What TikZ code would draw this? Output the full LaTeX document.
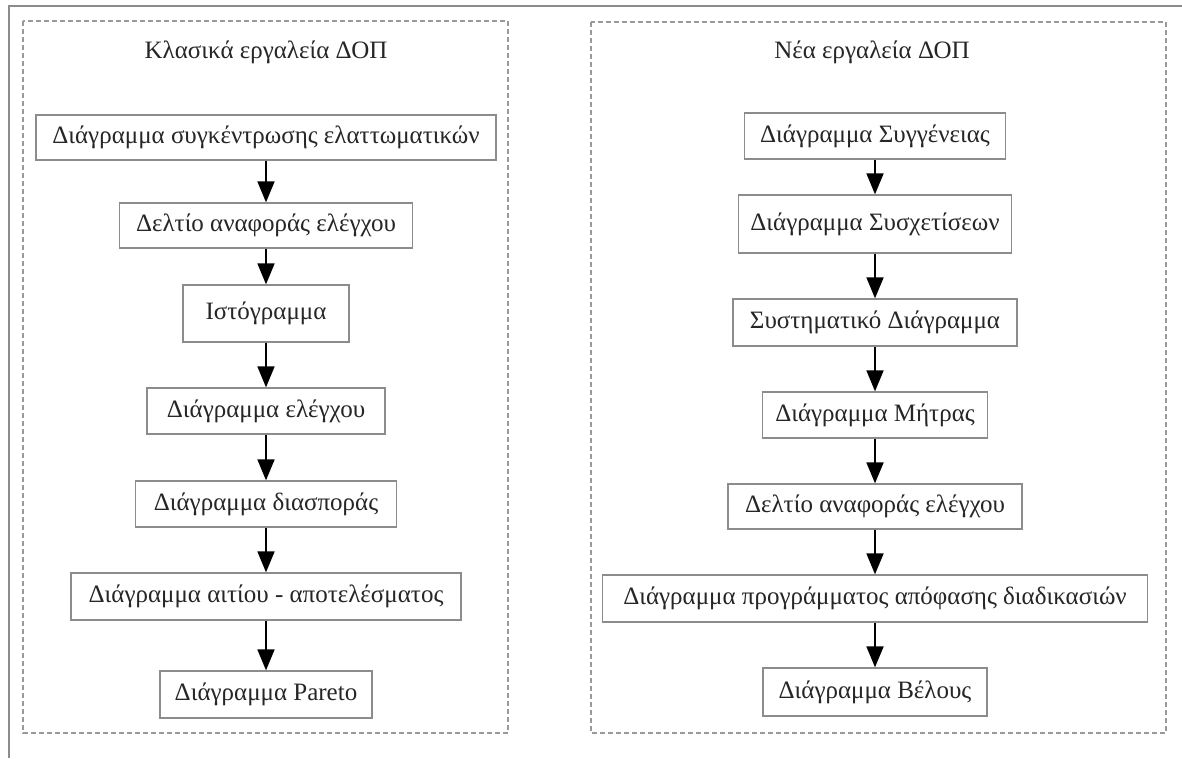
\documentclass[tikz,border=0pt]{standalone}
\usepackage{fontspec}
\setmainfont{Liberation Serif}
\usetikzlibrary{arrows.meta}
\begin{document}
\begin{tikzpicture}[x=1pt,y=-1pt,
  every node/.style={font=\fontsize{25}{29}\selectfont, text=black!85},
  toolbox/.style={draw=black!45, line width=1.3pt, inner sep=0pt, fill=white},
  group/.style={draw=black!40, line width=1.3pt, dash pattern=on 5pt off 3pt},
  flow/.style={line width=1.8pt, -{Triangle[length=21pt,width=17pt]}},
  frame/.style={draw=black!45, line width=1.8pt}]
\useasboundingbox (0,0) rectangle (1182,758);
% outer frame (top and left edges only)
\draw[frame] (1182,6) -- (9,6) -- (9,758);
% group outlines
\draw[group] (23,21) rectangle (508,733);
\draw[group] (591,22) rectangle (1166,733);
% group titles
\node (tl) at (266,52) {Κλασικά εργαλεία ΔΟΠ};
\node (tr) at (872,52) {Νέα εργαλεία ΔΟΠ};
% classic tools
\node[toolbox, minimum width=460pt, minimum height=45pt] (l1) at (266,137.5) {Διάγραμμα συγκέντρωσης ελαττωματικών};
\node[toolbox, minimum width=293pt, minimum height=45pt] (l2) at (266,225.5) {Δελτίο αναφοράς ελέγχου};
\node[toolbox, minimum width=166pt, minimum height=57pt] (l3) at (266,313.5) {Ιστόγραμμα};
\node[toolbox, minimum width=238pt, minimum height=46pt] (l4) at (266,411) {Διάγραμμα ελέγχου};
\node[toolbox, minimum width=261pt, minimum height=46pt] (l5) at (266,504) {Διάγραμμα διασποράς};
\node[toolbox, minimum width=390pt, minimum height=47pt] (l6) at (266,596.5) {Διάγραμμα αιτίου - αποτελέσματος};
\node[toolbox, minimum width=212pt, minimum height=47pt] (l7) at (266,694.5) {Διάγραμμα Pareto};
% new tools
\node[toolbox, minimum width=261pt, minimum height=46pt] (r1) at (875,136) {Διάγραμμα Συγγένειας};
\node[toolbox, minimum width=273pt, minimum height=58pt] (r2) at (875,224) {Διάγραμμα Συσχετίσεων};
\node[toolbox, minimum width=284pt, minimum height=47pt] (r3) at (875,322.5) {Συστηματικό Διάγραμμα};
\node[toolbox, minimum width=225pt, minimum height=46pt] (r4) at (875,415) {Διάγραμμα Μήτρας};
\node[toolbox, minimum width=294pt, minimum height=45pt] (r5) at (875,506.5) {Δελτίο αναφοράς ελέγχου};
\node[toolbox, minimum width=545pt, minimum height=47pt] (r6) at (875,598.5) {Διάγραμμα προγράμματος απόφασης διαδικασιών};
\node[toolbox, minimum width=224pt, minimum height=48pt] (r7) at (875,692) {Διάγραμμα Βέλους};
% connectors
\foreach \a/\b in {l1/l2,l2/l3,l3/l4,l4/l5,l5/l6,l6/l7,r1/r2,r2/r3,r3/r4,r4/r5,r5/r6,r6/r7}
  \draw[flow] (\a.south) -- (\b.north);
\end{tikzpicture}
\end{document}
